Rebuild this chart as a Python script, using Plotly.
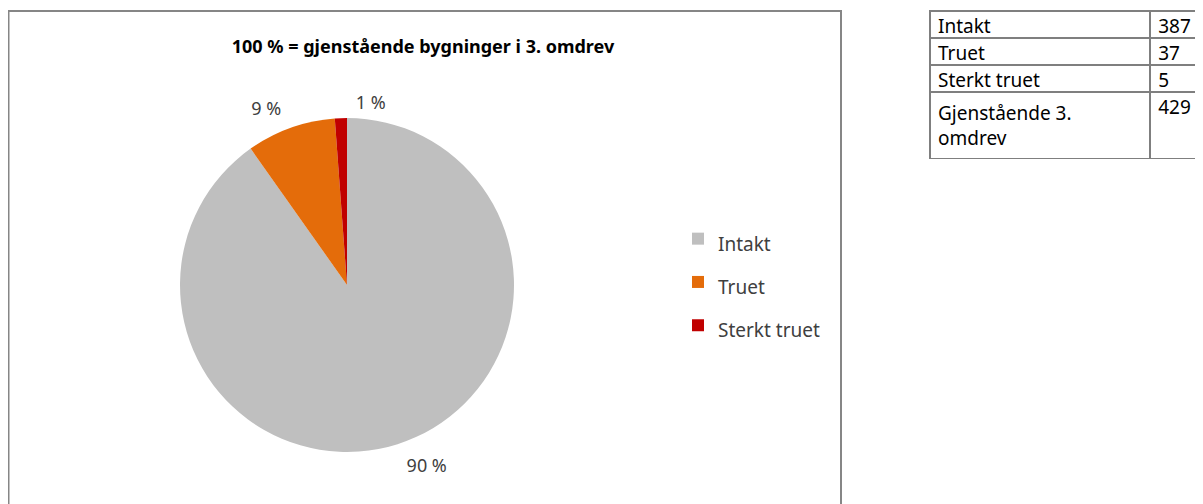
import plotly.graph_objects as go

W, H = 1195, 496
OFF = 8  # page body margin

title = "100 % = gjenstående bygninger i 3. omdrev"
categories = ["Intakt", "Truet", "Sterkt truet"]
values = [387, 37, 5]
colors = ["#BFBFBF", "#E46C0A", "#C00000"]

table_names = ["Intakt", "Truet", "Sterkt truet", "Gjenstående 3. omdrev"]
table_counts = [387, 37, 5, 429]

total = sum(values)
pct_text = [f"{round(v / total * 100)} %" for v in values]

def px(x):
    return (x - OFF) / W

def py(y):
    return 1 - (y - OFF) / H

def pie_domain(r):
    return dict(x=[px(cx - r), px(cx + r)], y=[py(cy + r), py(cy - r)])

cx, cy, half = 347, 285, 167
label_font = dict(family="Noto Sans", size=18, color="#404040")
clear = ["rgba(0,0,0,0)"] * len(values)

fig = go.Figure()

# main pie (slices + legend)
fig.add_trace(go.Pie(
    labels=[f"<span style='font-size:19px'>{c}</span>" for c in categories],
    values=values,
    textinfo="none",
    marker=dict(colors=colors, line=dict(width=0)),
    sort=False, direction="clockwise", rotation=0,
    hoverinfo="skip",
    domain=pie_domain(half),
    showlegend=True,
))

# transparent overlay pies carrying the outside percentage labels
for keep, r, rot in [([0, 1], half + 10, 0), ([2], half + 4, 3)]:
    fig.add_trace(go.Pie(
        labels=categories,
        values=values,
        text=[t if i in keep else "" for i, t in enumerate(pct_text)],
        textinfo="text",
        textposition="outside",
        textfont=label_font,
        marker=dict(colors=clear, line=dict(width=0)),
        sort=False, direction="clockwise", rotation=rot,
        hoverinfo="skip",
        domain=pie_domain(r),
        showlegend=False,
    ))

table_display = [n.replace("3. ", "3.<br>") for n in table_names]
counts_display = [str(v) for v in table_counts]
tline = dict(color="#7F7F7F", width=1.5)
tfont = dict(family="Noto Sans", size=19, color="black")

fig.add_trace(go.Table(
    domain=dict(x=[px(930), 1.0], y=[py(170), py(11)]),
    columnwidth=[221, 52],
    header=dict(values=[table_display[0], counts_display[0]], height=27,
                align="left", font=tfont, line=tline, fill=dict(color="white")),
    cells=dict(
        values=[table_display[1:], counts_display[1:]],
        align="left",
        font=tfont,
        line=tline,
        fill=dict(color="white"),
        height=27,
    ),
))

fig.add_shape(type="rect", xref="paper", yref="paper",
              x0=px(8.5), x1=px(841), y0=py(530), y1=py(11),
              line=dict(color="#868686", width=2), fillcolor="rgba(0,0,0,0)")

fig.update_layout(
    width=W, height=H,
    margin=dict(l=0, r=0, t=0, b=0),
    paper_bgcolor="white",
    plot_bgcolor="white",
    title=dict(text=f"<b>{title}</b>", x=px(423), xanchor="center",
               y=py(47), yanchor="middle",
               font=dict(family="Noto Sans", size=18, color="black")),
    legend=dict(x=px(678), y=py(282), yanchor="middle", xanchor="left",
                font=dict(family="Noto Sans", size=31, color="#404040"),
                bgcolor="rgba(0,0,0,0)", itemwidth=30),
)

fig.write_html("out.html")
